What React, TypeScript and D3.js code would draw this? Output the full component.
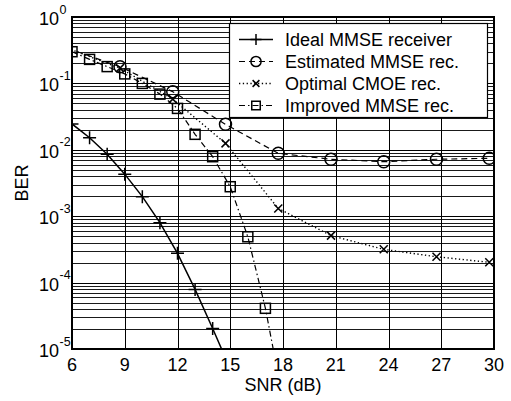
import * as d3 from 'd3';
import React from 'react';

// chart values
const snrIdeal = [6, 7, 8, 9, 10, 11, 12, 13, 14, 15];
const berIdeal = [0.0245, 0.0152, 0.0086, 0.0043, 0.00197, 0.0008, 0.000276, 7.9e-5, 2.04e-5, 5e-6];

const snrShifted = [5.73, 8.73, 11.73, 14.73, 17.73, 20.73, 23.73, 26.73, 29.73];
const berEstimated = [0.34, 0.178, 0.075, 0.0242, 0.00885, 0.0072, 0.00662, 0.0072, 0.00745];
const berOptimal = [0.34, 0.17, 0.058, 0.0125, 0.00131, 0.00051, 0.000317, 0.000245, 0.000202];

const snrImproved = [6, 7, 8, 9, 10, 11, 12, 13, 14, 15, 16, 17, 18];
const berImproved = [0.3, 0.23, 0.179, 0.139, 0.1, 0.069, 0.042, 0.0171, 0.00787, 0.00278, 0.00049, 4.1e-5, 1.7e-6];

const xTicks = [6, 9, 12, 15, 18, 21, 24, 27, 30];
const yExponents = [0, -1, -2, -3, -4, -5];
const legendLabels = ['Ideal MMSE receiver', 'Estimated MMSE rec.', 'Optimal CMOE rec.', 'Improved MMSE rec.'];

const W = 511;
const H = 401;
const margin = { left: 72, right: 17, top: 17, bottom: 52 };
const FONT = '"Liberation Sans", Arial, Helvetica, sans-serif';

const x = d3.scaleLinear().domain([6, 30]).range([margin.left, W - margin.right]);
const y = d3.scaleLog().domain([1e-5, 1]).range([H - margin.bottom, margin.top]);

type Series = { snr: number[]; ber: number[]; dash: string; width: number; marker: string };
const series: Series[] = [
  { snr: snrIdeal, ber: berIdeal, dash: 'none', width: 1.5, marker: 'plus' },
  { snr: snrShifted, ber: berEstimated, dash: '6,4', width: 1.2, marker: 'circle' },
  { snr: snrShifted, ber: berOptimal, dash: '1.3,2.5', width: 1.4, marker: 'cross' },
  { snr: snrImproved, ber: berImproved, dash: '6,3,1.5,3', width: 1.2, marker: 'square' },
];

const Marker = ({ kind, cx, cy, s = 1 }: { kind: string; cx: number; cy: number; s?: number }) => {
  const st = { stroke: '#000', strokeWidth: 1.5, fill: 'none' };
  if (kind === 'plus') {
    const r = 6.5 * s;
    return <path d={`M${cx - r},${cy}H${cx + r}M${cx},${cy - r}V${cy + r}`} {...st} />;
  }
  if (kind === 'circle') return <circle cx={cx} cy={cy} r={6 * s} {...st} />;
  if (kind === 'cross') {
    const r = 4 * s;
    return <path d={`M${cx - r},${cy - r}L${cx + r},${cy + r}M${cx - r},${cy + r}L${cx + r},${cy - r}`} {...st} />;
  }
  const h = 5 * s;
  return <rect x={cx - h} y={cy - h} width={2 * h} height={2 * h} {...st} />;
};

export default function App() {
  const x0 = x.range()[0];
  const x1 = x.range()[1];
  const yTop = y.range()[1];
  const yBot = y.range()[0];

  // minor grid values for the log axis
  const minors: number[] = [];
  for (let e = -5; e < 0; e++) {
    for (let m = 2; m <= 9; m++) minors.push(m * Math.pow(10, e));
  }

  const line = d3
    .line<[number, number]>()
    .x((d) => x(d[0]))
    .y((d) => y(d[1]));

  const lx = 229.5;
  const ly = 23.5;
  const lw = 258;
  const lh = 94;

  return (
    <svg width={W} height={H} style={{ position: 'absolute', left: 0, top: 0, background: '#fff' }} fontFamily={FONT}>
      <rect x={0} y={0} width={W} height={H} fill="#fff" />
      <defs>
        <clipPath id="plotClip">
          <rect x={x0} y={yTop} width={x1 - x0} height={yBot - yTop} />
        </clipPath>
      </defs>

      {/* grid */}
      <g stroke="#000" strokeWidth={1}>
        {xTicks.map((t) => (
          <line key={'gx' + t} x1={Math.round(x(t)) + 0.5} x2={Math.round(x(t)) + 0.5} y1={yTop} y2={yBot} />
        ))}
        {yExponents.map((e) => (
          <line key={'gy' + e} x1={x0} x2={x1} y1={Math.round(y(Math.pow(10, e))) + 0.5} y2={Math.round(y(Math.pow(10, e))) + 0.5} />
        ))}
        {minors.map((v, i) => (
          <line key={'gm' + i} x1={x0} x2={x1} y1={Math.round(y(v)) + 0.5} y2={Math.round(y(v)) + 0.5} strokeWidth={0.9} />
        ))}
      </g>

      {/* data */}
      <g clipPath="url(#plotClip)">
        {series.map((s, i) => (
          <path
            key={'l' + i}
            d={line(s.snr.map((v, j) => [v, s.ber[j]] as [number, number])) || ''}
            fill="none"
            stroke="#000"
            strokeWidth={s.width}
            strokeDasharray={s.dash}
          />
        ))}
        {series.map((s, i) =>
          s.snr.map((v, j) =>
            v >= 6 && v <= 30 && s.ber[j] >= 1e-5 ? (
              <Marker key={`m${i}-${j}`} kind={s.marker} cx={x(v)} cy={y(s.ber[j])} />
            ) : null
          )
        )}
      </g>

      {/* axes box */}
      <rect x={x0} y={yTop} width={x1 - x0} height={yBot - yTop} fill="none" stroke="#000" strokeWidth={2} />

      {/* tick labels */}
      <g fontSize={18} fill="#000">
        {xTicks.map((t) => (
          <text key={'tx' + t} x={x(t)} y={yBot + 22} textAnchor="middle">
            {t}
          </text>
        ))}
        {yExponents.map((e) => (
          <g key={'ty' + e}>
            <text x={59} y={y(Math.pow(10, e)) + 8} textAnchor="end">
              10
            </text>
            <text x={59.5} y={y(Math.pow(10, e)) - 3.5} fontSize={12.5}>
              {e === 0 ? '0' : '-' + Math.abs(e)}
            </text>
          </g>
        ))}
      </g>

      <text x={(x0 + x1) / 2} y={391} textAnchor="middle" fontSize={18}>
        SNR (dB)
      </text>
      <text transform={`translate(28, ${(yTop + yBot) / 2}) rotate(-90)`} textAnchor="middle" fontSize={18}>
        BER
      </text>

      {/* legend */}
      <rect x={lx} y={ly} width={lw} height={lh} fill="#fff" stroke="#000" strokeWidth={1.2} />
      {series.map((s, i) => {
        const cy = 39.5 + i * 22;
        return (
          <g key={'lg' + i}>
            <line x1={239} x2={273} y1={cy} y2={cy} stroke="#000" strokeWidth={s.width} strokeDasharray={s.dash} />
            <Marker kind={s.marker} cx={256} cy={cy} s={0.85} />
            <text x={285} y={cy + 6.5} fontSize={18}>
              {legendLabels[i]}
            </text>
          </g>
        );
      })}
    </svg>
  );
}
